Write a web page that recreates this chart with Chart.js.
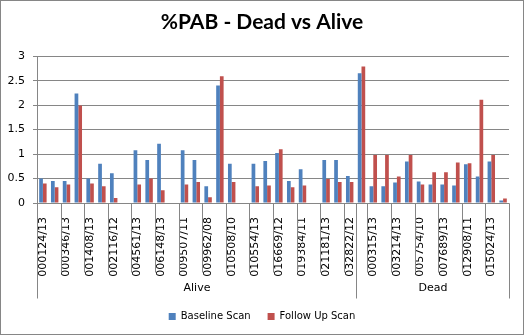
<!DOCTYPE html>
<html>
<head>
<meta charset="utf-8">
<script src="https://cdn.jsdelivr.net/npm/chart.js@4/dist/chart.umd.min.js"></script>
<style>
  html, body { margin: 0; padding: 0; background: #fff; }
  #wrap { width: 524px; height: 335px; position: relative; }
</style>
</head>
<body>
<div id="wrap"><canvas id="c" width="524" height="335"></canvas></div>
<script>
// ---- data ----
const categories = [
  '000124/13','', '000346/13','', '001408/13','', '002116/12','',
  '004561/13','', '006148/13','', '009507/11','', '009962/08','',
  '010508/10','', '010554/13','', '016669/12','', '019384/11','',
  '021181/13','', '032822/12','', '000315/13','', '003214/13','',
  '005754/10','', '007689/13','', '012908/11','', '015024/13',''
];
const groupNames = ['Alive', 'Dead'];
const groupSizes = [27, 13];
const baselineScan = [0.50,0.45,0.45,2.24,0.50,0.80,0.61,null,1.08,0.88,1.21,null,1.08,0.88,0.34,2.40,0.80,null,0.80,0.86,1.02,0.45,0.69,null,0.88,0.88,0.55,2.65,0.34,0.34,0.42,0.85,0.44,0.38,0.38,0.36,0.79,0.54,0.85,0.05];
const followUpScan = [0.40,0.32,0.38,1.99,0.40,0.34,0.10,null,0.38,0.50,0.26,null,0.38,0.43,0.12,2.59,0.43,null,0.34,0.36,1.10,0.32,0.36,null,0.49,0.43,0.43,2.79,0.98,0.98,0.54,0.98,0.38,0.63,0.63,0.83,0.81,2.11,0.98,0.09];
const seriesNames = ['Baseline Scan', 'Follow Up Scan'];
const yTicks = { min: 0, max: 3, step: 0.5 };

const GRAY = '#868686';
const TICK_FONT = { family: 'DejaVu Sans', size: 11 };

const axisPlugin = {
  id: 'excelAxis',
  beforeDraw(chart) {
    const ctx = chart.ctx;
    ctx.save();
    ctx.fillStyle = '#fff';
    ctx.fillRect(0, 0, chart.width, chart.height);
    ctx.restore();
  },
  afterDraw(chart) {
    const ctx = chart.ctx;
    const x = chart.scales.x;
    const area = chart.chartArea;
    const n = categories.length;
    const bx = i => Math.round(x.getPixelForValue(i - 0.5)) + 0.5;
    const axisY = Math.round(area.bottom) + 0.5;
    ctx.save();
    ctx.strokeStyle = GRAY;
    ctx.lineWidth = 1;
    // axis line
    ctx.beginPath();
    ctx.moveTo(bx(0), axisY);
    ctx.lineTo(bx(n), axisY);
    ctx.stroke();
    // group boundaries
    const groupB = [0];
    groupSizes.reduce((a, s) => { groupB.push(a + s); return a + s; }, 0);
    const tickEnd = axisY + 69;
    const groupEnd = axisY + 95;
    ctx.beginPath();
    for (let i = 0; i <= n; i++) {
      const isGroup = groupB.includes(i);
      if (isGroup) {
        ctx.moveTo(bx(i), axisY);
        ctx.lineTo(bx(i), groupEnd);
      } else if (i % 2 === 0) {
        ctx.moveTo(bx(i), axisY);
        ctx.lineTo(bx(i), tickEnd);
      }
    }
    ctx.stroke();
    // group labels
    ctx.fillStyle = '#000';
    ctx.font = '11px "DejaVu Sans"';
    ctx.textAlign = 'center';
    ctx.textBaseline = 'middle';
    for (let g = 0; g < groupNames.length; g++) {
      const cx = (bx(groupB[g]) + bx(groupB[g + 1])) / 2;
      ctx.fillText(groupNames[g], cx, axisY + 85);
    }
    // chart border
    ctx.strokeStyle = GRAY;
    ctx.strokeRect(0.5, 0.5, chart.width - 1, chart.height - 1);
    ctx.restore();
  }
};

new Chart(document.getElementById('c'), {
  type: 'bar',
  data: {
    labels: categories,
    datasets: [
      { label: seriesNames[0], data: baselineScan, backgroundColor: '#4F81BD', borderWidth: 0 },
      { label: seriesNames[1], data: followUpScan, backgroundColor: '#C0504D', borderWidth: 0 }
    ]
  },
  options: {
    responsive: false,
    animation: false,
    devicePixelRatio: 1,
    layout: { padding: { left: 0, right: 0, top: 0, bottom: 3.5 } },
    datasets: { bar: { categoryPercentage: 0.63, barPercentage: 1.0 } },
    plugins: {
      title: {
        display: true,
        text: '%PAB - Dead vs Alive',
        color: '#000',
        font: { family: 'Lato', size: 21, weight: 'bold' },
        padding: { top: 10, bottom: 21 }
      },
      legend: {
        display: true,
        position: 'bottom',
        labels: {
          boxWidth: 7, boxHeight: 7, padding: 17,
          color: '#000',
          font: { family: 'DejaVu Sans', size: 10 }
        }
      },
      tooltip: { enabled: false }
    },
    scales: {
      x: {
        type: 'category',
        offset: true,
        grid: { display: false },
        border: { display: false },
        ticks: {
          autoSkip: false, minRotation: 90, maxRotation: 90,
          padding: 6, color: '#000', font: TICK_FONT
        },
        afterFit(s) { s.height = 91.5; }
      },
      y: {
        min: yTicks.min, max: yTicks.max,
        grid: { color: GRAY, lineWidth: 1, tickLength: 4, drawTicks: true },
        border: { display: true, color: GRAY },
        ticks: {
          stepSize: yTicks.step, padding: 8, color: '#000', font: TICK_FONT,
          callback: v => String(v)
        },
        afterFit(s) { s.width = 37; }
      },
      y2: {
        position: 'right',
        min: 0, max: 1,
        grid: { display: false },
        border: { display: false },
        ticks: { display: false },
        afterFit(s) { s.width = 15; }
      }
    }
  },
  plugins: [axisPlugin]
});
</script>
</body>
</html>
